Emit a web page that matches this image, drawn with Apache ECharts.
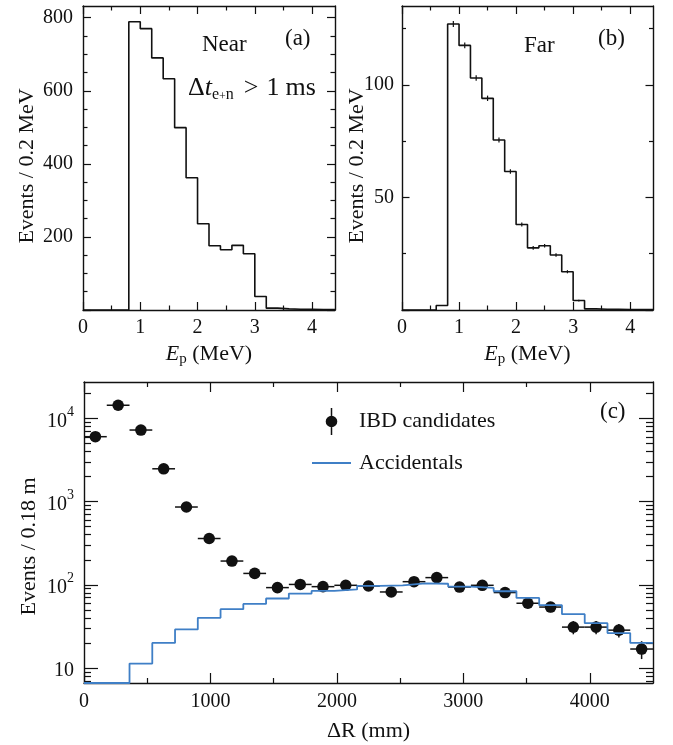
<!DOCTYPE html>
<html>
<head>
<meta charset="utf-8">
<script src="https://cdn.jsdelivr.net/npm/echarts@6/dist/echarts.min.js"></script>
<style>
html, body { margin: 0; padding: 0; background: #fff; }
#main { width: 673px; height: 745px; }
</style>
</head>
<body>
<div id="main"></div>
<script>
// ---- data ----
// prompt energy, bins of 0.2 MeV
var epEdges = [0, 0.2, 0.4, 0.6, 0.8, 1.0, 1.2, 1.4, 1.6, 1.8, 2.0, 2.2, 2.4, 2.6, 2.8, 3.0, 3.2, 3.4, 3.6, 3.8, 4.0, 4.2, 4.4];
var nearCounts = [0, 0, 0, 0, 789, 770, 690, 633, 499, 362, 236, 176, 165, 177, 154, 37, 5, 3, 2, 2, 1, 1];
var farCounts = [0, 0, 0, 2, 127, 117.5, 103, 94, 75.5, 61.5, 38, 27.6, 28.5, 24.4, 17, 4.2, 0.5, 0.3, 0.3, 0.2, 0.2, 0.2];
var farErrors = [0, 0, 0, 0, 1.3, 1.3, 1.2, 1.2, 1.1, 1.0, 0.9, 0.8, 0.8, 0.8, 0.7, 0.4, 0, 0, 0, 0, 0, 0];

// delta R, bins of 180 mm
var drEdges = [0, 180, 360, 540, 720, 900, 1080, 1260, 1440, 1620, 1800, 1980, 2160, 2340, 2520, 2700, 2880, 3060, 3240, 3420, 3600, 3780, 3960, 4140, 4320, 4500];
var drCenters = [90, 270, 450, 630, 810, 990, 1170, 1350, 1530, 1710, 1890, 2070, 2250, 2430, 2610, 2790, 2970, 3150, 3330, 3510, 3690, 3870, 4050, 4230, 4410];
var ibdCounts = [6030, 14400, 7250, 2480, 861, 360, 193, 137, 92.5, 101, 95, 98.6, 96.7, 82, 109, 122, 94, 98.6, 80.7, 60, 54, 31, 31, 28.5, 16.9];
var ibdErrors = [78, 120, 85, 50, 29, 19, 14, 12, 9.6, 10, 9.7, 9.9, 9.8, 9.1, 10.4, 11, 9.7, 9.9, 9, 7.7, 7.3, 5.6, 5.6, 5.3, 4.1];
var accCounts = [6.6, 6.6, 11.3, 20, 29.1, 40.1, 50.9, 58.9, 68.4, 78.5, 84.3, 88, 96.8, 98.6, 104, 103, 95, 91.6, 83.6, 69.5, 56.9, 44.4, 34.6, 26.3, 20];

// ticks and labels
var epMajor = [0, 1, 2, 3, 4];
var epMinor = [0.5, 1.5, 2.5, 3.5];
var nearMajor = [0, 200, 400, 600, 800];
var nearMinor = [50, 100, 150, 250, 300, 350, 450, 500, 550, 650, 700, 750];
var nearLabels = [200, 400, 600, 800];
var farMajor = [0, 50, 100];
var farMinor = [25, 75, 125];
var farLabels = [50, 100];
var drMajor = [0, 1000, 2000, 3000, 4000];
var drMinor = [500, 1500, 2500, 3500];
var logMajor = [10, 100, 1000, 10000];
var logMinor = [7, 8, 9, 20, 30, 40, 50, 60, 70, 80, 90, 200, 300, 400, 500, 600, 700, 800, 900,
  2000, 3000, 4000, 5000, 6000, 7000, 8000, 9000, 20000];

var INK = '#111';
var BLUE = '#3f7fc6';
var FONT = '"Liberation Serif", "Times New Roman", serif';
var HALF_BIN = 90;

function toSteps(edges, counts) {
  var pts = counts.map(function (c, i) { return [edges[i], c]; });
  pts.push([edges[edges.length - 1], counts[counts.length - 1]]);
  return pts;
}

// four axes per side pair: major + minor ticks, both sides, ticks inside (ROOT style frame)
function frame(grid, dim, type, min, max, major, minor, majorLen, minorLen) {
  var sides = dim === 'x' ? ['bottom', 'top'] : ['left', 'right'];
  var out = [];
  sides.forEach(function (pos) {
    [[major, majorLen, true], [minor, minorLen, false]].forEach(function (t) {
      out.push({
        type: type, gridIndex: grid, position: pos, min: min, max: max,
        axisLine: { show: t[2], onZero: false, lineStyle: { color: INK, width: 1.4 } },
        axisTick: { show: true, inside: true, length: t[1], customValues: t[0], lineStyle: { color: INK, width: 1.2 } },
        axisLabel: { show: false },
        splitLine: { show: false }
      });
    });
  });
  return out;
}

function labels(vals, margin) {
  return {
    show: true, customValues: vals, margin: margin, fontSize: 20, fontFamily: FONT, color: INK,
    formatter: function (v) { return String(v); }
  };
}

var xAxes = [].concat(
  frame(0, 'x', 'value', 0, 4.4, epMajor, epMinor, 8, 4.5),
  frame(1, 'x', 'value', 0, 4.4, epMajor, epMinor, 8, 4.5),
  frame(2, 'x', 'value', 0, 4500, drMajor, drMinor, 10, 5)
);
var yAxes = [].concat(
  frame(0, 'y', 'value', 0, 832, nearMajor, nearMinor, 8, 4.5),
  frame(1, 'y', 'value', 0, 135, farMajor, farMinor, 7.5, 4),
  frame(2, 'y', 'log', 6.6, 27400, logMajor, logMinor, 14, 7)
);

var epName = {
  name: '{i|E}{s|p} (MeV)', nameLocation: 'middle', nameGap: 31, nameMoveOverlap: false,
  nameTextStyle: {
    fontFamily: FONT, fontSize: 22, color: INK, lineHeight: 26,
    rich: {
      i: { fontFamily: FONT, fontSize: 22, fontStyle: 'italic', color: INK, lineHeight: 26 },
      s: { fontFamily: FONT, fontSize: 15, color: INK, lineHeight: 20, verticalAlign: 'bottom' }
    }
  }
};
Object.assign(xAxes[0], epName, { axisLabel: labels(epMajor, 8) });
Object.assign(xAxes[4], epName, { axisLabel: labels(epMajor, 8) });
Object.assign(xAxes[8], {
  name: 'ΔR (mm)', nameLocation: 'middle', nameGap: 35, nameMoveOverlap: false,
  nameTextStyle: { fontFamily: FONT, fontSize: 22, color: INK, lineHeight: 26 },
  axisLabel: labels(drMajor, 9)
});

function yName(text, gap, shift) {
  return {
    name: text, nameLocation: 'middle', nameGap: gap, nameMoveOverlap: false,
    nameTextStyle: { fontFamily: FONT, fontSize: 22, color: INK, lineHeight: 26, padding: [0, shift, 0, 0] }
  };
}
Object.assign(yAxes[0], yName('Events / 0.2 MeV', 43, 16), { axisLabel: labels(nearLabels, 10) });
Object.assign(yAxes[4], yName('Events / 0.2 MeV', 32, 16), { axisLabel: labels(farLabels, 8) });
Object.assign(yAxes[8], yName('Events / 0.18 m', 42, 28), {
  axisLabel: {
    show: true, customValues: logMajor, margin: 10,
    formatter: function (v) {
      var p = Math.round(Math.log10(v));
      return p === 1 ? '{b|10}' : '{b|10}{e|' + p + '}';
    },
    rich: {
      b: { fontFamily: FONT, fontSize: 20, color: INK, lineHeight: 26, verticalAlign: 'bottom' },
      e: { fontFamily: FONT, fontSize: 14, color: INK, lineHeight: 14, verticalAlign: 'top' }
    }
  }
});

function errBar(params, api) {
  var x = api.value(0), y = api.value(1), e = api.value(2);
  if (!e) return null;
  var a = api.coord([x, y - e]), b = api.coord([x, y + e]);
  return { type: 'line', shape: { x1: a[0], y1: a[1], x2: b[0], y2: b[1] }, style: { stroke: INK, lineWidth: 1.2 } };
}

function ibdPoint(params, api) {
  var x = api.value(0), y = api.value(1), e = api.value(2);
  var c = api.coord([x, y]);
  var l = api.coord([x - HALF_BIN, y]), r = api.coord([x + HALF_BIN, y]);
  var lo = api.coord([x, y - e]), hi = api.coord([x, y + e]);
  return {
    type: 'group',
    children: [
      { type: 'line', shape: { x1: l[0], y1: l[1], x2: r[0], y2: r[1] }, style: { stroke: INK, lineWidth: 1.5 } },
      { type: 'line', shape: { x1: lo[0], y1: lo[1], x2: hi[0], y2: hi[1] }, style: { stroke: INK, lineWidth: 1.5 } },
      { type: 'circle', shape: { cx: c[0], cy: c[1], r: 5.8 }, style: { fill: INK } }
    ]
  };
}

var farErrData = farCounts.map(function (c, i) { return [epEdges[i] + 0.1, c, farErrors[i]]; });
var ibdData = ibdCounts.map(function (c, i) { return [drCenters[i], c, ibdErrors[i]]; });

var txt = { fontFamily: FONT, fontSize: 23, fill: INK };
function label(x, y, text, extra) {
  return { type: 'text', x: x, y: y, style: Object.assign({ text: text, textVerticalAlign: 'middle' }, txt, extra || {}) };
}

var chart = echarts.init(document.getElementById('main'));
chart.setOption({
  animation: false,
  backgroundColor: '#fff',
  textStyle: { fontFamily: FONT },
  grid: [
    { left: 83, top: 6, width: 252, height: 304 },
    { left: 402, top: 6, width: 251, height: 304 },
    { left: 84, top: 382, width: 569, height: 302 }
  ],
  xAxis: xAxes,
  yAxis: yAxes,
  legend: {
    data: [
      { name: 'IBD candidates', icon: 'path://M-0.75,-13.5h1.5v27h-1.5z M-5.8,0a5.8,5.8 0 1,1 11.6,0a5.8,5.8 0 1,1 -11.6,0z' },
      { name: 'Accidentals', icon: 'path://M0,0h39v2h-39z', itemStyle: { color: BLUE } }
    ],
    orient: 'vertical', left: 312, top: 408, padding: 0,
    itemWidth: 39, itemHeight: 27, itemGap: 17, selectedMode: false,
    textStyle: { fontFamily: FONT, fontSize: 22, color: INK, padding: [0, 0, 0, 3] }
  },
  graphic: [
    label(285, 39, '(a)'),
    label(202, 45, 'Near'),
    label(188, 88, '{d|Δ}{t|t}{s|e}{p|+}{s|n}{g|>}{n|1}{m|ms}', {
      rich: {
        d: { fontFamily: FONT, fontSize: 26, lineHeight: 30 },
        t: { fontFamily: FONT, fontSize: 26, fontStyle: 'italic', lineHeight: 30 },
        s: { fontFamily: FONT, fontSize: 16, lineHeight: 10, verticalAlign: 'bottom' },
        p: { fontFamily: FONT, fontSize: 12, lineHeight: 18, verticalAlign: 'bottom' },
        g: { fontFamily: FONT, fontSize: 26, lineHeight: 30, padding: [0, 0, 0, 10] },
        n: { fontFamily: FONT, fontSize: 26, lineHeight: 30, padding: [0, 0, 0, 8] },
        m: { fontFamily: FONT, fontSize: 26, lineHeight: 30, padding: [0, 0, 0, 6] }
      }
    }),
    label(598, 39, '(b)'),
    label(524, 46, 'Far'),
    label(600, 412, '(c)')
  ],
  series: [
    {
      type: 'line', xAxisIndex: 0, yAxisIndex: 0, step: 'end', symbol: 'none',
      lineStyle: { color: INK, width: 1.6 }, data: toSteps(epEdges, nearCounts)
    },
    {
      type: 'line', xAxisIndex: 4, yAxisIndex: 4, step: 'end', symbol: 'none',
      lineStyle: { color: INK, width: 1.6 }, data: toSteps(epEdges, farCounts)
    },
    {
      type: 'custom', xAxisIndex: 4, yAxisIndex: 4, renderItem: errBar, data: farErrData
    },
    {
      name: 'Accidentals', type: 'line', xAxisIndex: 8, yAxisIndex: 8, step: 'end', symbol: 'none',
      itemStyle: { color: BLUE }, lineStyle: { color: BLUE, width: 1.8 }, data: toSteps(drEdges, accCounts)
    },
    {
      name: 'IBD candidates', type: 'custom', xAxisIndex: 8, yAxisIndex: 8,
      itemStyle: { color: INK }, renderItem: ibdPoint, data: ibdData, z: 3
    }
  ]
});
</script>
</body>
</html>
